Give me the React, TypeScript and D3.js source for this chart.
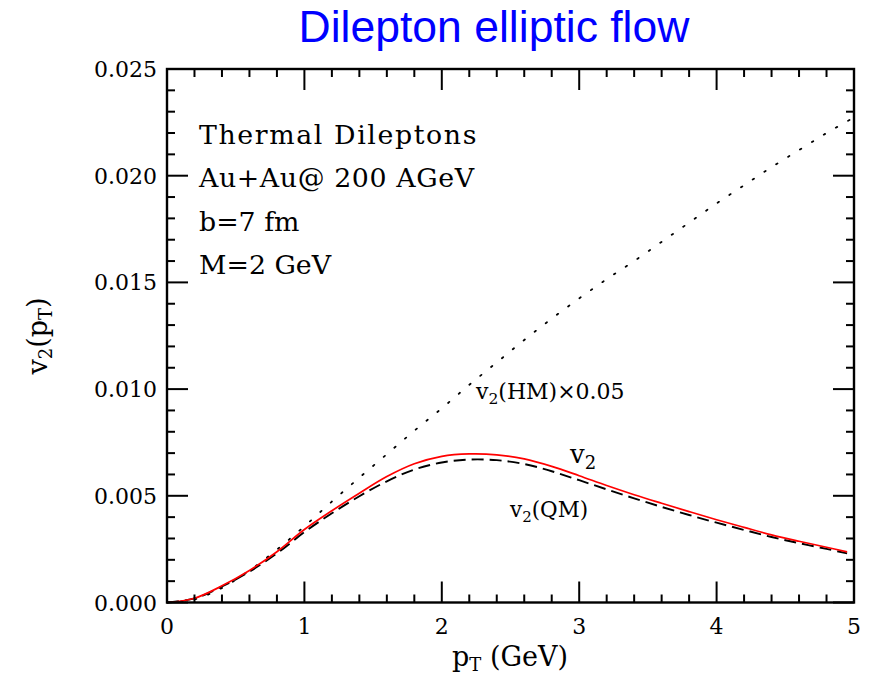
import React from "react";
import * as d3 from "d3";

// Transverse momentum grid (GeV) and v2 values (units of 1e-3)
const ptGrid = [0, 0.2, 0.4, 0.6, 0.8, 1.0, 1.2, 1.4, 1.6, 1.8, 2.0, 2.2, 2.4, 2.6, 2.8, 3.0, 3.2, 3.4, 3.6, 3.8, 4.0, 4.2, 4.4, 4.6, 4.8, 4.95];
const v2Total = [0, 0.2, 0.78, 1.5, 2.38, 3.42, 4.3, 5.12, 5.9, 6.5, 6.85, 6.96, 6.92, 6.73, 6.38, 5.94, 5.48, 5.05, 4.65, 4.26, 3.88, 3.52, 3.17, 2.87, 2.59, 2.37];
const v2QM = [0, 0.19, 0.75, 1.45, 2.3, 3.3, 4.18, 4.98, 5.68, 6.23, 6.56, 6.7, 6.67, 6.49, 6.15, 5.73, 5.3, 4.88, 4.48, 4.1, 3.74, 3.4, 3.07, 2.78, 2.51, 2.3];
const ptGridHM = [0, 0.2, 0.4, 0.6, 0.8, 1.0, 1.2, 1.4, 1.6, 1.8, 2.0, 2.2, 2.4, 2.6, 2.8, 3.0, 3.2, 3.4, 3.6, 3.8, 4.0, 4.2, 4.4, 4.6, 4.8, 4.97];
const v2HMScaled = [0, 0.15, 0.68, 1.5, 2.48, 3.57, 4.73, 5.85, 6.95, 8.05, 9.1, 10.2, 11.25, 12.3, 13.3, 14.25, 15.15, 16.0, 16.9, 17.8, 18.7, 19.55, 20.4, 21.2, 22.0, 22.62];

const xMajorTicks = [0, 1, 2, 3, 4, 5];
const xTickLabels = ["0", "1", "2", "3", "4", "5"];
const yMajorTicks = [0, 0.005, 0.01, 0.015, 0.02, 0.025];
const yTickLabels = ["0.000", "0.005", "0.010", "0.015", "0.020", "0.025"];
const infoLines = ["Thermal Dileptons", "Au+Au@ 200 AGeV", "b=7 fm", "M=2 GeV"];

const W = 869;
const H = 680;
const left = 167;
const right = 854;
const top = 69;
const bottom = 602.5;

const serif = "'DejaVu Serif', serif";
const infoSpacing = [1.6, 0.6, 0, 0];

export default function App() {
  const x = d3.scaleLinear().domain([0, 5]).range([left, right]);
  const y = d3.scaleLinear().domain([0, 0.025]).range([bottom, top]);

  const xMinor = d3.range(0, 5.0001, 0.2).filter((v) => Math.abs(v - Math.round(v)) > 1e-6);
  const yMinor = d3.range(0, 0.02501, 0.001).filter((v) => Math.abs(v / 0.005 - Math.round(v / 0.005)) > 1e-6);

  const line = d3
    .line<[number, number]>()
    .x((d) => x(d[0]))
    .y((d) => y(d[1] * 1e-3))
    .curve(d3.curveCatmullRom.alpha(0.5));

  const totalPath = line(ptGrid.map((p, i) => [p, v2Total[i]]))!;
  const qmPath = line(ptGrid.map((p, i) => [p, v2QM[i]]))!;
  const hmPath = line(ptGridHM.map((p, i) => [p, v2HMScaled[i]]))!;

  const majorLen = 21;
  const minorLen = 8;

  return (
    <svg width={W} height={H} style={{ position: "absolute", left: 0, top: 0, background: "#fff" }}>
      <rect x={0} y={0} width={W} height={H} fill="#fff" />
      <text x={494} y={42} textAnchor="middle" fill="#0000ff" fontFamily="'Liberation Sans', sans-serif" fontSize={44.5}>
        Dilepton elliptic flow
      </text>

      {/* curves */}
      <path d={hmPath} fill="none" stroke="#000" strokeWidth={1.8} strokeDasharray="1.6 12.4" strokeLinecap="round" />
      <path d={qmPath} fill="none" stroke="#000" strokeWidth={1.9} strokeDasharray="12 6" />
      <path d={totalPath} fill="none" stroke="#ff0000" strokeWidth={1.7} />

      {/* frame */}
      <rect x={left} y={top} width={right - left} height={bottom - top} fill="none" stroke="#000" strokeWidth={2.4} />

      {/* x ticks, bottom and top */}
      {xMajorTicks.map((t) => (
        <g key={"xM" + t}>
          <line x1={x(t)} x2={x(t)} y1={bottom} y2={bottom - majorLen} stroke="#000" strokeWidth={2} />
          <line x1={x(t)} x2={x(t)} y1={top} y2={top + majorLen} stroke="#000" strokeWidth={2} />
        </g>
      ))}
      {xMinor.map((t) => (
        <g key={"xm" + t}>
          <line x1={x(t)} x2={x(t)} y1={bottom} y2={bottom - minorLen} stroke="#000" strokeWidth={2} />
          <line x1={x(t)} x2={x(t)} y1={top} y2={top + minorLen} stroke="#000" strokeWidth={2} />
        </g>
      ))}
      {/* y ticks, left and right */}
      {yMajorTicks.map((t) => (
        <g key={"yM" + t}>
          <line x1={left} x2={left + majorLen} y1={y(t)} y2={y(t)} stroke="#000" strokeWidth={2} />
          <line x1={right} x2={right - majorLen} y1={y(t)} y2={y(t)} stroke="#000" strokeWidth={2} />
        </g>
      ))}
      {yMinor.map((t) => (
        <g key={"ym" + t}>
          <line x1={left} x2={left + minorLen} y1={y(t)} y2={y(t)} stroke="#000" strokeWidth={2} />
          <line x1={right} x2={right - minorLen} y1={y(t)} y2={y(t)} stroke="#000" strokeWidth={2} />
        </g>
      ))}

      {/* tick labels */}
      {xMajorTicks.map((t, i) => (
        <text key={"xl" + t} x={x(t)} y={634} textAnchor="middle" fontFamily={serif} fontSize={22}>
          {xTickLabels[i]}
        </text>
      ))}
      {yMajorTicks.map((t, i) => (
        <text key={"yl" + t} x={157} y={y(t) + 8} textAnchor="end" fontFamily={serif} fontSize={22}>
          {yTickLabels[i]}
        </text>
      ))}

      {/* axis titles */}
      <text x={510} y={666} textAnchor="middle" fontFamily={serif} fontSize={27}>
        p<tspan fontSize={18} dy={5}>T</tspan>
        <tspan dy={-5}> (GeV)</tspan>
      </text>
      <text transform="translate(47,336) rotate(-90)" textAnchor="middle" fontFamily={serif} fontSize={27}>
        v<tspan fontSize={18} dy={5}>2</tspan>
        <tspan dy={-5}>(p</tspan>
        <tspan fontSize={18} dy={5}>T</tspan>
        <tspan dy={-5}>)</tspan>
      </text>

      {/* run info */}
      {infoLines.map((s, i) => (
        <text key={s} x={199} y={144 + i * 43.3} fontFamily={serif} fontSize={26.8} letterSpacing={infoSpacing[i]}>
          {s}
        </text>
      ))}

      {/* curve labels */}
      <text x={476} y={399} fontFamily={serif} fontSize={22}>
        v<tspan fontSize={15.5} dy={5}>2</tspan>
        <tspan dy={-5}>(HM)×0.05</tspan>
      </text>
      <text x={570} y={463} fontFamily={serif} fontSize={26}>
        v<tspan fontSize={18} dy={6}>2</tspan>
      </text>
      <text x={510} y={517} fontFamily={serif} fontSize={21.5}>
        v<tspan fontSize={15} dy={5}>2</tspan>
        <tspan dy={-5}>(QM)</tspan>
      </text>
    </svg>
  );
}
